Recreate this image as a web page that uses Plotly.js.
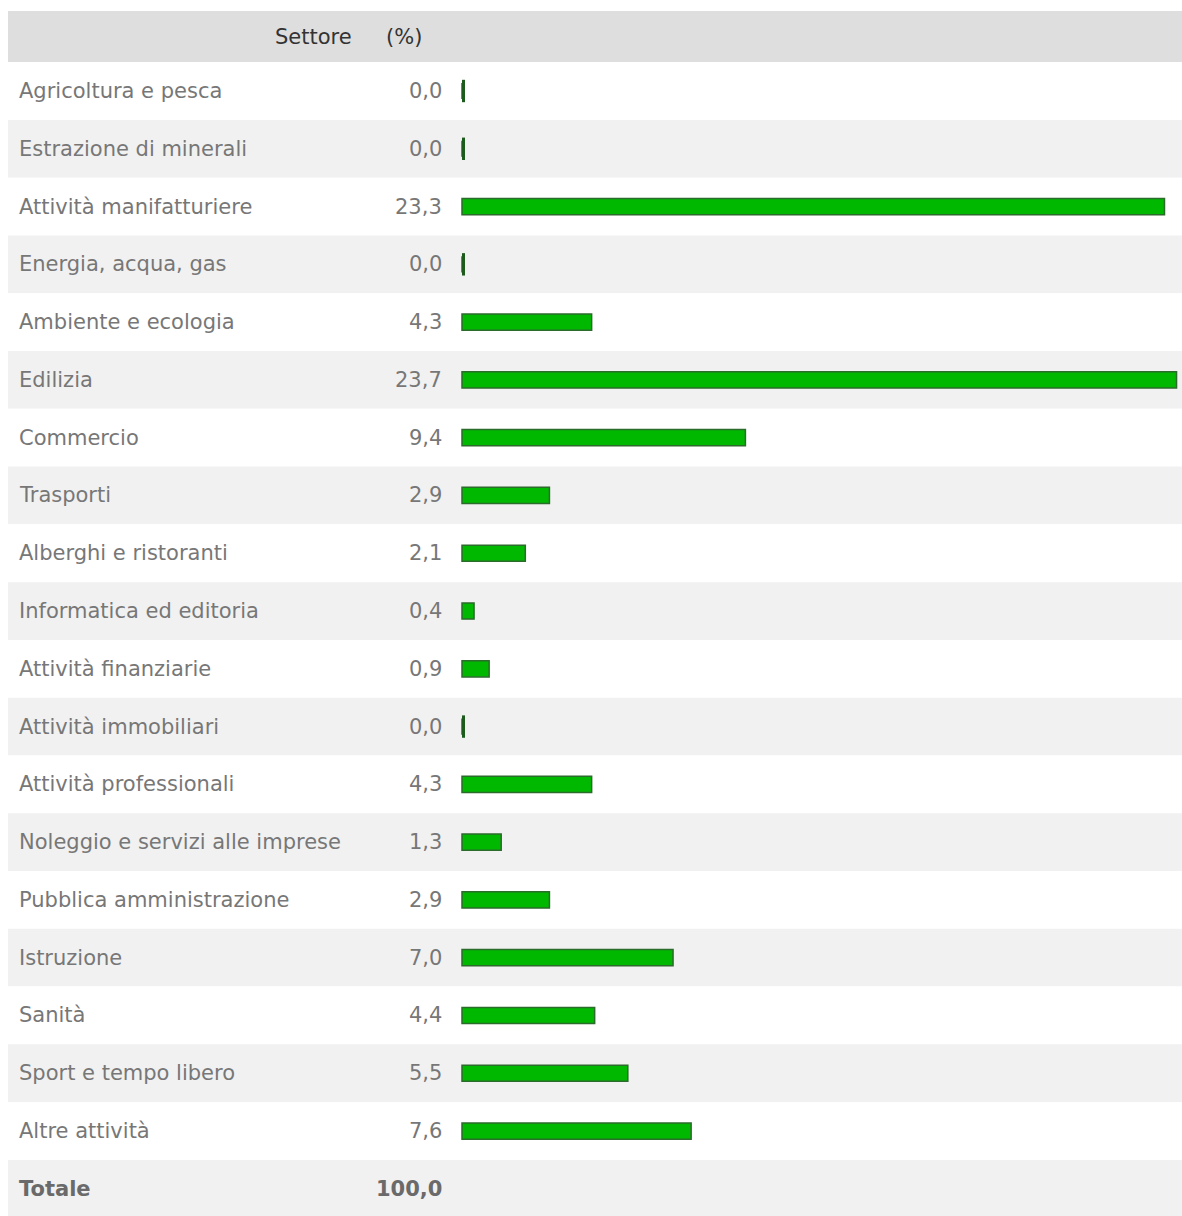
<!DOCTYPE html>
<html>
<head>
<meta charset="utf-8">
<script src="https://cdn.plot.ly/plotly-3.0.1.min.js"></script>
<style>
html,body{margin:0;padding:0;background:#fff;}
#chart{width:1182px;height:1216px;}
</style>
</head>
<body>
<div id="chart"></div>
<script>
// ---- data ----
const categories = [
  "Agricoltura e pesca",
  "Estrazione di minerali",
  "Attività manifatturiere",
  "Energia, acqua, gas",
  "Ambiente e ecologia",
  "Edilizia",
  "Commercio",
  "Trasporti",
  "Alberghi e ristoranti",
  "Informatica ed editoria",
  "Attività finanziarie",
  "Attività immobiliari",
  "Attività professionali",
  "Noleggio e servizi alle imprese",
  "Pubblica amministrazione",
  "Istruzione",
  "Sanità",
  "Sport e tempo libero",
  "Altre attività"
];
const values = [0.0, 0.0, 23.3, 0.0, 4.3, 23.7, 9.4, 2.9, 2.1, 0.4, 0.9, 0.0, 4.3, 1.3, 2.9, 7.0, 4.4, 5.5, 7.6];
const headerLabels = ["Settore", "(%)"];
const totalLabel = "Totale";
const totalValue = 100.0;

// ---- layout helpers ----
const W = 1182, H = 1216;
const fmt = v => v.toFixed(1).replace('.', ',');
const n = categories.length;
const rowIdx = categories.map((_, i) => i);
const pxToPaper = px => px / W;

const FONT = "DejaVu Sans, Verdana, sans-serif";
const FS = 21;
const labelColor = "#777777";
const valueColor = "#777777";

const shapes = [];
// header background
shapes.push({type:"rect", xref:"paper", yref:"y", x0:pxToPaper(8), x1:1, y0:-1.385, y1:-0.502,
  fillcolor:"#dedede", line:{width:0}, layer:"below"});
// row backgrounds (including total row)
for (let i = 0; i <= n; i++) {
  shapes.push({type:"rect", xref:"paper", yref:"y", x0:pxToPaper(8), x1:1, y0:i-0.5, y1:i+0.5,
    fillcolor: (i % 2 === 1) ? "#f1f1f1" : "#ffffff", line:{width:0}, layer:"below"});
}

const annotations = [];
annotations.push({xref:"paper", yref:"y", x:pxToPaper(354), y:-0.94, text:headerLabels[0],
  showarrow:false, xanchor:"right", yanchor:"middle", font:{family:FONT, size:FS, color:"#333"}});
annotations.push({xref:"paper", yref:"y", x:pxToPaper(384), y:-0.94, text:headerLabels[1],
  showarrow:false, xanchor:"left", yanchor:"middle", font:{family:FONT, size:FS, color:"#333"}});
categories.forEach((c, i) => {
  annotations.push({xref:"paper", yref:"y", x:pxToPaper(17), y:i, text:c, showarrow:false,
    xanchor:"left", yanchor:"middle", font:{family:FONT, size:FS, color:labelColor}});
  annotations.push({xref:"paper", yref:"y", x:pxToPaper(444), y:i, text:fmt(values[i]), showarrow:false,
    xanchor:"right", yanchor:"middle", font:{family:FONT, size:FS, color:valueColor}});
});
annotations.push({xref:"paper", yref:"y", x:pxToPaper(17), y:n, text:"<b>"+totalLabel+"</b>", showarrow:false,
  xanchor:"left", yanchor:"middle", font:{family:FONT, size:FS, color:"#6a6a6a"}});
annotations.push({xref:"paper", yref:"y", x:pxToPaper(444), y:n, text:"<b>"+fmt(totalValue)+"</b>", showarrow:false,
  xanchor:"right", yanchor:"middle", font:{family:FONT, size:FS, color:"#6a6a6a"}});

// x axis: value 0 at px 462, ~30.15 px per unit
const x0px = 462, pxPerUnit = 30.15;
const xRange = [-x0px / pxPerUnit, (W - x0px) / pxPerUnit];
// y axis: row 0 center at px 91, pitch 57.78
const y0px = 91, pitch = 57.78;
const yRange = [(H - y0px) / pitch, -y0px / pitch];

const barTrace = {
  type:"bar", orientation:"h",
  x: values, y: rowIdx, base: 0, width: 0.28,
  marker:{color:"#00b800", line:{color:"#2b6b2b", width:1.5}},
  hoverinfo:"skip", showlegend:false
};
const zeroIdx = rowIdx.filter(i => values[i] === 0);
const zeroTrace = {
  type:"scatter", mode:"markers",
  x: zeroIdx.map(() => 0.05), y: zeroIdx,
  marker:{symbol:"line-ns-open", size:16, color:"#1d5a1d", line:{color:"#1d5a1d", width:3}},
  hoverinfo:"skip", showlegend:false
};

const layout = {
  width: W, height: H,
  margin:{l:0, r:0, t:0, b:0, pad:0},
  paper_bgcolor:"#ffffff", plot_bgcolor:"rgba(0,0,0,0)",
  xaxis:{range:xRange, visible:false, fixedrange:true},
  yaxis:{range:yRange, visible:false, fixedrange:true},
  shapes, annotations,
  bargap:0, showlegend:false
};

Plotly.newPlot("chart", [barTrace, zeroTrace], layout, {displayModeBar:false, staticPlot:true});
</script>
</body>
</html>
